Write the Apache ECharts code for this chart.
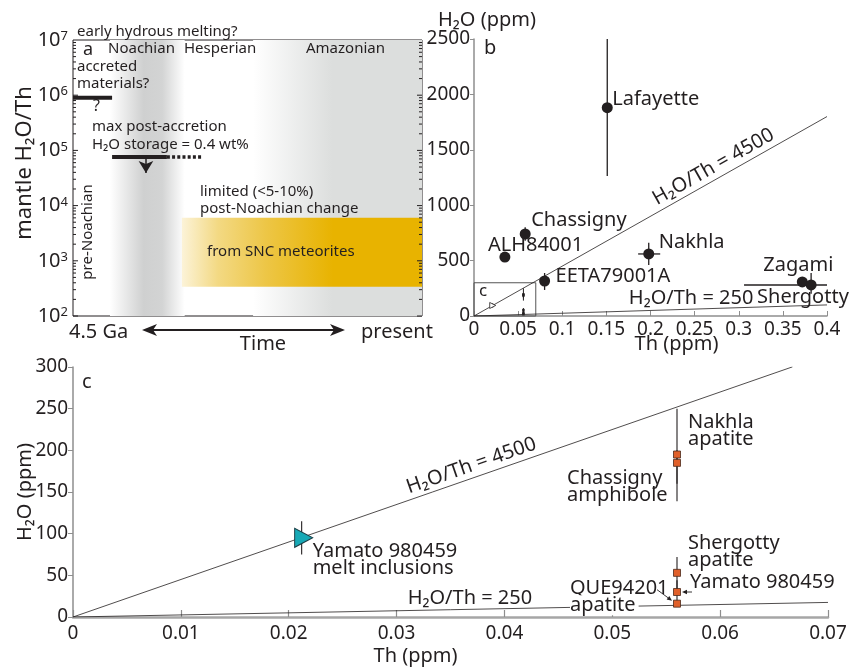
<!DOCTYPE html>
<html><head><meta charset="utf-8">
<script src="https://cdn.jsdelivr.net/npm/echarts@6/dist/echarts.min.js"></script>
<style>html,body{margin:0;padding:0;background:#fff}#c{width:857px;height:669px}</style>
</head><body><div id="c"></div>
<script>
// ================= DATA =================
// Panel a : time axis (0 = 4.5 Ga, 1 = present), mantle H2O/Th (log)
const aYRange = [1e2, 1e7];
const noachianBand = [0.106, 0.32];
const postNoachianBand = [0.516, 1];
const sncTime = [0.312, 1];
const sncRatio = [340, 6000];
const accretedBar = [[0, 9e5], [0.112, 9e5]];
const storageBar = [[0.112, 7.6e4], [0.269, 7.6e4]];
const storageDotted = [[0.269, 7.6e4], [0.37, 7.6e4]];
const storageArrow = [[0.209, 7.6e4], [0.209, 3.9e4]];

// Panel b : whole-rock SNC meteorites
const bNames = ['Lafayette', 'Chassigny', 'ALH84001', 'Nakhla', 'EETA79001A', 'Zagami', 'Shergotty'];
const bTh    = [0.151, 0.058, 0.035, 0.198, 0.080, 0.372, 0.382];
const bH2O   = [1880, 740, 532, 560, 316, 307, 280];
const bH2OLo = [1264, 680, 532, 460, 235, 307, 200];
const bH2OHi = [2500, 800, 532, 660, 388, 307, 388];
const bThLo  = [0.151, 0.058, 0.035, 0.186, 0.080, 0.372, 0.306];
const bThHi  = [0.151, 0.058, 0.035, 0.211, 0.080, 0.372, 0.400];
const bXAxis = [0, 0.4, 0.05];
const bYAxis = [0, 2500, 500];

// Panel c : melt inclusions and minerals
const meltNames = ['Yamato 980459\nmelt inclusions'];
const meltTh  = [0.0212];
const meltH2O = [95];
const meltLo  = [75];
const meltHi  = [115];
const apNames = ['Nakhla\napatite', 'Chassigny\namphibole', 'Shergotty\napatite', 'Yamato 980459', 'QUE94201\napatite'];
const apTh  = [0.056, 0.056, 0.056, 0.056, 0.056];
const apH2O = [195, 185, 53, 30, 16];
const apLo  = [160, 139, 33, 16, 16];
const apHi  = [250, 200, 72, 44, 16];
const cXAxis = [0, 0.07, 0.01];
const cYAxis = [0, 300, 50];

// Reference ratio lines H2O/Th
const ratios = [4500, 250];
const ratioTexts = ['H₂O/Th = 4500', 'H₂O/Th = 250'];
const bRatioEndTh = [0.4, 0.4];
const cRatioEndTh = [0.0667, 0.07];

// ================= STYLE =================
const FONT = '"Noto Sans", "DejaVu Sans", sans-serif';
const INK = '#231f20';
const AXG = '#8e8e8e';
const bLabelCfg = { // [dx, dy, align]
  'Lafayette': [5, -8, 'left'], 'Chassigny': [6, -14, 'left'], 'ALH84001': [-17, -12, 'left'],
  'Nakhla': [10, -12, 'left'], 'EETA79001A': [11, -5, 'left'], 'Zagami': [-39, -17, 'left'],
  'Shergotty': [-54, 12, 'left']
};
const apLabelCfg = [[11, -24, 'left'], [-110, 24, 'left'], [11, -21, 'left'], [13, -10, 'left'], [-107, -7, 'left']];
const bRatioLabelTh = [0.278, 0.246];
const cRatioLabelTh = [0.0373, 0.0368];

function grad(stops) {
  return { type: 'linear', x: 0, y: 0, x2: 1, y2: 0, colorStops: stops.map(s => ({ offset: s[0], color: s[1] })) };
}
function ratioLine(xi, yi, endTh, r, w) {
  return { type: 'line', xAxisIndex: xi, yAxisIndex: yi, symbol: 'none', silent: true, z: 2,
    lineStyle: { color: INK, width: w }, data: [[0, 0], [endTh, r * endTh]] };
}
function errorBars(xi, yi, rows, lw) {
  return { type: 'custom', xAxisIndex: xi, yAxisIndex: yi, z: 3, silent: true, data: rows,
    renderItem: (p, api) => {
      const x = api.value(0), y = api.value(1);
      const yl = api.value(2), yh = api.value(3), xl = api.value(4), xh = api.value(5);
      const ch = [];
      if (yl !== yh) { const a = api.coord([x, yl]), b = api.coord([x, yh]);
        ch.push({ type: 'line', shape: { x1: a[0], y1: a[1], x2: b[0], y2: b[1] }, style: { stroke: INK, lineWidth: lw } }); }
      if (xl !== xh) { const a = api.coord([xl, y]), b = api.coord([xh, y]);
        ch.push({ type: 'line', shape: { x1: a[0], y1: a[1], x2: b[0], y2: b[1] }, style: { stroke: INK, lineWidth: lw } }); }
      return { type: 'group', children: ch };
    } };
}
const lblBase = { show: true, position: 'inside', verticalAlign: 'middle', fontSize: 20, fontFamily: FONT, color: INK, lineHeight: 17, opacity: 1 };
const plainNum = v => String(v);

// log ticks for panel a (minor + major)
const aTicks = [];
for (let d = 2; d < 7; d++) for (let k = 1; k <= 9; k++) aTicks.push([0, k * Math.pow(10, d), k === 1 ? 5 : 3]);

const option = {
  animation: false,
  textStyle: { fontFamily: FONT },
  grid: [
    { left: 73, top: 40, width: 349, height: 276, show: true, borderColor: INK, borderWidth: 1, outerBoundsMode: 'none', containLabel: false },
    { left: 474, top: 39, width: 353, height: 277, outerBoundsMode: 'none', containLabel: false },
    { left: 73, top: 367, width: 755, height: 250, outerBoundsMode: 'none', containLabel: false }
  ],
  xAxis: [
    { gridIndex: 0, type: 'value', min: 0, max: 1, show: false },
    { gridIndex: 1, type: 'value', min: bXAxis[0], max: bXAxis[1], interval: bXAxis[2],
      axisLine: { lineStyle: { color: AXG, width: 1.5 } },
      axisTick: { inside: true, length: 5, lineStyle: { color: AXG } },
      axisLabel: { fontSize: 19, color: INK, margin: 4, fontFamily: FONT, formatter: plainNum },
      splitLine: { show: false },
      name: 'Th (ppm)', nameLocation: 'middle', nameGap: 18, nameMoveOverlap: false,
      nameTextStyle: { fontSize: 20, color: INK, fontFamily: FONT, padding: [0, 0, 0, 52] } },
    { gridIndex: 2, type: 'value', min: cXAxis[0], max: cXAxis[1], interval: cXAxis[2],
      axisLine: { lineStyle: { color: '#a6a6a6', width: 2.5 } },
      axisTick: { inside: true, length: 7, lineStyle: { color: AXG, width: 1.2 } },
      axisLabel: { fontSize: 19, color: INK, margin: 7, fontFamily: FONT, formatter: plainNum },
      splitLine: { show: false },
      name: 'Th (ppm)', nameLocation: 'middle', nameGap: 29, nameMoveOverlap: false,
      nameTextStyle: { fontSize: 20, color: INK, fontFamily: FONT, padding: [0, 70, 0, 0] } }
  ],
  yAxis: [
    { gridIndex: 0, type: 'log', logBase: 10, min: aYRange[0], max: aYRange[1],
      axisLine: { show: false }, axisTick: { show: false }, splitLine: { show: false },
      axisLabel: { margin: 5, color: INK,
        formatter: v => '{b|10}{s|' + Math.round(Math.log10(v)) + '}',
        rich: { b: { fontSize: 20, fontFamily: FONT, color: INK, verticalAlign: 'bottom' },
                s: { fontSize: 13, fontFamily: FONT, color: INK, verticalAlign: 'top' } } } },
    { gridIndex: 1, type: 'value', min: bYAxis[0], max: bYAxis[1], interval: bYAxis[2],
      axisLine: { show: true, lineStyle: { color: AXG, width: 1.5 } },
      axisTick: { show: true, length: 4, lineStyle: { color: AXG } },
      axisLabel: { fontSize: 19, color: INK, margin: 4, fontFamily: FONT, formatter: plainNum },
      splitLine: { show: false },
      name: 'H₂O (ppm)', nameLocation: 'end', nameGap: 9, nameMoveOverlap: false,
      nameTextStyle: { fontSize: 20, color: INK, fontFamily: FONT, align: 'center', verticalAlign: 'bottom', padding: [0, 0, 0, 26] } },
    { gridIndex: 2, type: 'value', min: cYAxis[0], max: cYAxis[1], interval: cYAxis[2],
      axisLine: { show: true, lineStyle: { color: AXG, width: 1.5 } },
      axisTick: { show: true, length: 5, lineStyle: { color: AXG } },
      axisLabel: { fontSize: 19, color: INK, margin: 5, fontFamily: FONT, formatter: plainNum },
      splitLine: { show: false },
      name: 'H₂O (ppm)', nameLocation: 'middle', nameGap: 38, nameMoveOverlap: false,
      nameTextStyle: { fontSize: 20, color: INK, fontFamily: FONT } }
  ],
  series: [
    // ---- panel a backgrounds
    { type: 'line', xAxisIndex: 0, yAxisIndex: 0, symbol: 'none', silent: true, z: 1, data: [[0, 1e3]], lineStyle: { width: 0 },
      markArea: { silent: true, data: [
        [{ xAxis: noachianBand[0], yAxis: aYRange[0], itemStyle: { opacity: 1, color: grad([[0, '#ffffff'], [0.45, '#cfd0d0'], [0.7, '#d3d4d4'], [1, '#ffffff']]) } },
         { xAxis: noachianBand[1], yAxis: aYRange[1] }],
        [{ xAxis: postNoachianBand[0], yAxis: aYRange[0], itemStyle: { opacity: 1, color: grad([[0, '#ffffff'], [0.47, '#dcdedd'], [1, '#dcdedd']]) } },
         { xAxis: postNoachianBand[1], yAxis: aYRange[1] }],
        [{ xAxis: sncTime[0], yAxis: sncRatio[0], itemStyle: { opacity: 1, color: grad([[0, '#fcf3d8'], [0.15, '#f3d983'], [0.35, '#edc646'], [0.63, '#e8b300'], [1, '#e8b300']]) } },
         { xAxis: sncTime[1], yAxis: sncRatio[1] }]
      ] } },
    { type: 'custom', xAxisIndex: 0, yAxisIndex: 0, silent: true, z: 3, data: aTicks, encode: { x: 0, y: 1 },
      renderItem: (p, api) => {
        const v = api.value(1), len = api.value(2);
        const a = api.coord([0, v]), b = api.coord([1, v]);
        return { type: 'group', children: [
          { type: 'line', shape: { x1: a[0], y1: a[1], x2: a[0] + len, y2: a[1] }, style: { stroke: INK, lineWidth: 1 } },
          { type: 'line', shape: { x1: b[0] - len, y1: b[1], x2: b[0], y2: b[1] }, style: { stroke: INK, lineWidth: 1 } }] };
      } },
    { type: 'line', xAxisIndex: 0, yAxisIndex: 0, symbol: 'none', silent: true, z: 4, data: accretedBar, lineStyle: { color: INK, width: 4, cap: 'butt' } },
    { type: 'line', xAxisIndex: 0, yAxisIndex: 0, symbol: 'none', silent: true, z: 4, data: storageBar, lineStyle: { color: INK, width: 4, cap: 'butt' } },
    { type: 'line', xAxisIndex: 0, yAxisIndex: 0, symbol: 'none', silent: true, z: 4, data: storageDotted, lineStyle: { color: INK, width: 3.5, type: [3, 2.2], cap: 'butt' } },
    { type: 'line', xAxisIndex: 0, yAxisIndex: 0, symbol: 'none', silent: true, z: 4, data: [], lineStyle: { width: 0 },
      markLine: { silent: true, symbol: ['none', 'arrow'], symbolSize: [11, 12], label: { show: false },
        lineStyle: { color: INK, width: 1.5, type: 'solid', opacity: 1 },
        data: [[{ coord: storageArrow[0] }, { coord: storageArrow[1] }]] } },

    // ---- panel b
    ratioLine(1, 1, bRatioEndTh[0], ratios[0], 0.8),
    ratioLine(1, 1, bRatioEndTh[1], ratios[1], 0.8),
    { type: 'line', xAxisIndex: 1, yAxisIndex: 1, symbol: 'none', silent: true, z: 2, data: [], lineStyle: { width: 0 },
      markArea: { silent: true, data: [[{ coord: [cXAxis[0], cYAxis[0]], itemStyle: { opacity: 1, color: 'rgba(0,0,0,0)', borderColor: '#555', borderWidth: 1 } },
                                        { coord: [cXAxis[1], cYAxis[1]] }]] } },
    errorBars(1, 1, bNames.map((n, i) => [bTh[i], bH2O[i], bH2OLo[i], bH2OHi[i], bThLo[i], bThHi[i]]), 1.3),
    errorBars(1, 1, meltTh.map((t, i) => [t, meltH2O[i], meltLo[i], meltHi[i], t, t]), 1),
    errorBars(1, 1, apTh.map((t, i) => [t, apH2O[i], apLo[i], apHi[i], t, t]), 1),
    { type: 'scatter', xAxisIndex: 1, yAxisIndex: 1, symbol: 'circle', symbolSize: 11, z: 4, silent: true,
      itemStyle: { color: INK, opacity: 1 },
      data: bNames.map((n, i) => ({ name: n, value: [bTh[i], bH2O[i]],
        label: Object.assign({}, lblBase, { formatter: n, offset: [bLabelCfg[n][0], bLabelCfg[n][1]], align: bLabelCfg[n][2] }) })) },
    { type: 'scatter', xAxisIndex: 1, yAxisIndex: 1, symbol: 'triangle', symbolRotate: -90, symbolSize: [6, 6], z: 4, silent: true,
      itemStyle: { color: '#ffffff', borderColor: INK, borderWidth: 0.8, opacity: 1 }, data: meltTh.map((t, i) => [t, meltH2O[i]]) },
    { type: 'scatter', xAxisIndex: 1, yAxisIndex: 1, symbol: 'rect', symbolSize: 2.5, z: 4, silent: true,
      itemStyle: { color: INK, opacity: 1 }, data: apTh.map((t, i) => [t, apH2O[i]]) },

    // ---- panel c
    ratioLine(2, 2, cRatioEndTh[0], ratios[0], 0.8),
    ratioLine(2, 2, cRatioEndTh[1], ratios[1], 0.8),
    errorBars(2, 2, meltTh.map((t, i) => [t, meltH2O[i], meltLo[i], meltHi[i], t, t]), 1.1),
    errorBars(2, 2, apTh.map((t, i) => [t, apH2O[i], apLo[i], apHi[i], t, t]), 1.1),
    { type: 'scatter', xAxisIndex: 2, yAxisIndex: 2, symbol: 'triangle', symbolRotate: -90, symbolSize: [19, 18], symbolOffset: [2, 0], z: 4, silent: true,
      itemStyle: { color: '#17a9b6', borderColor: '#1d3e46', borderWidth: 1, opacity: 1 },
      data: meltNames.map((n, i) => ({ name: n, value: [meltTh[i], meltH2O[i]],
        label: Object.assign({}, lblBase, { formatter: n, offset: [9, 21.5], align: 'left' }) })) },
    { type: 'scatter', xAxisIndex: 2, yAxisIndex: 2, symbol: 'rect', symbolSize: 7, z: 5, silent: true,
      itemStyle: { color: '#e0602a', borderColor: '#4a2a1a', borderWidth: 0.8, opacity: 1 },
      data: apNames.map((n, i) => {
        const isQue = n.indexOf('QUE') === 0;
        const parts = n.split('\n');
        return { name: n, value: [apTh[i], apH2O[i]],
          label: Object.assign({}, lblBase, {
            formatter: isQue ? '{a|' + parts[0] + '}\n{w|' + parts[1] + '}' : n,
            rich: isQue ? { a: { fontSize: 20, fontFamily: FONT, color: INK, lineHeight: 17 },
                            w: { fontSize: 20, fontFamily: FONT, color: INK, lineHeight: 17, backgroundColor: '#ffffff', padding: [0, 3, 0, 0] } } : undefined,
            offset: [apLabelCfg[i][0], apLabelCfg[i][1]], align: apLabelCfg[i][2] }) };
      }) }
  ]
};

const chart = echarts.init(document.getElementById('c'));
chart.setOption(option);

// ================= ANNOTATIONS =================
const px = (g, v) => chart.convertToPixel({ gridIndex: g }, v);
function txt(x, y, text, size, extra) {
  return Object.assign({ type: 'text', x: x, y: y, z: 20, silent: true,
    style: { text: text, fontSize: size, fontFamily: FONT, fill: INK, textAlign: 'left', textVerticalAlign: 'middle' } }, extra || {});
}
function slopeLabel(g, endTh, r, atTh, text) {
  const p0 = px(g, [0, 0]), p1 = px(g, [endTh, r * endTh]);
  const ang = Math.atan2(p0[1] - p1[1], p1[0] - p0[0]);
  const a = px(g, [atTh, r * atTh]);
  return { type: 'text', x: a[0], y: a[1], rotation: ang, z: 20, silent: true,
    style: { text: text, x: 0, y: -2, fontSize: 20, fontFamily: FONT, fill: INK, textAlign: 'center', textVerticalAlign: 'bottom' } };
}
function flatLabel(g, r, atTh, text) {
  const a = px(g, [atTh, r * atTh]);
  return { type: 'text', x: a[0], y: a[1] - 1, z: 20, silent: true,
    style: { text: text, fontSize: 20, fontFamily: FONT, fill: INK, textAlign: 'center', textVerticalAlign: 'bottom' } };
}
function arrow(x1, y1, x2, y2, s) {
  const ang = Math.atan2(y2 - y1, x2 - x1);
  const bx = x2 - s * Math.cos(ang), by = y2 - s * Math.sin(ang);
  const nx = -Math.sin(ang) * s * 0.45, ny = Math.cos(ang) * s * 0.45;
  return [
    { type: 'line', z: 20, silent: true, shape: { x1: x1, y1: y1, x2: bx, y2: by }, style: { stroke: INK, lineWidth: 0.9 } },
    { type: 'polygon', z: 20, silent: true, shape: { points: [[x2, y2], [bx + nx, by + ny], [bx - nx, by - ny]] }, style: { fill: INK } }
  ];
}

const g = [];
// panel a texts
g.push(txt(77, 32, 'early hydrous melting?', 15));
g.push(txt(83, 50, 'a', 18));
g.push(txt(108, 49, 'Noachian', 15));
g.push(txt(184, 49, 'Hesperian', 15));
g.push(txt(306, 49, 'Amazonian', 15));
g.push(txt(77, 67, 'accreted', 15));
g.push(txt(77, 84, 'materials?', 15));
g.push(txt(93, 106, '?', 16));
g.push(txt(92, 127, 'max post-accretion', 15));
g.push(txt(92, 145, 'H₂O storage = 0.4 wt%', 15));
g.push(txt(200, 192, 'limited (<5-10%)', 15));
g.push(txt(200, 209, 'post-Noachian change', 15));
g.push(txt(207, 252, 'from SNC meteorites', 15));
g.push(txt(88, 232, 'pre-Noachian', 15, { rotation: Math.PI / 2, style: { text: 'pre-Noachian', fontSize: 15, fontFamily: FONT, fill: INK, textAlign: 'center', textVerticalAlign: 'middle' } }));
g.push(txt(25, 163, 'mantle H₂O/Th', 22, { rotation: Math.PI / 2, style: { text: 'mantle H₂O/Th', fontSize: 22, fontFamily: FONT, fill: INK, textAlign: 'center', textVerticalAlign: 'middle' } }));
g.push(txt(69, 332, '4.5 Ga', 20));
g.push(txt(361, 332, 'present', 20));
g.push(txt(263, 344, 'Time', 20, { style: { text: 'Time', fontSize: 20, fontFamily: FONT, fill: INK, textAlign: 'center', textVerticalAlign: 'middle' } }));
g.push({ type: 'line', z: 20, silent: true, shape: { x1: 150, y1: 330, x2: 337, y2: 330 }, style: { stroke: INK, lineWidth: 2 } });
g.push({ type: 'polygon', z: 20, silent: true, shape: { points: [[142, 330], [157, 324], [153, 330], [157, 336]] }, style: { fill: INK } });
g.push({ type: 'polygon', z: 20, silent: true, shape: { points: [[345, 330], [330, 324], [334, 330], [330, 336]] }, style: { fill: INK } });

// panel labels
g.push(txt(484, 48, 'b', 20));
const cb = px(1, [cXAxis[0], cYAxis[1]]);
g.push(txt(cb[0] + 5, cb[1] + 8, 'c', 17));
g.push(txt(82, 382, 'c', 20));

// ratio line labels
g.push(slopeLabel(1, bRatioEndTh[0], ratios[0], bRatioLabelTh[0], ratioTexts[0]));
g.push(flatLabel(1, ratios[1], bRatioLabelTh[1], ratioTexts[1]));
g.push(slopeLabel(2, cRatioEndTh[0], ratios[0], cRatioLabelTh[0], ratioTexts[0]));
g.push(flatLabel(2, ratios[1], cRatioLabelTh[1], ratioTexts[1]));

// pointer arrows in panel c
const pY = px(2, [apTh[3], apH2O[3]]);
arrow(pY[0] + 15, pY[1], pY[0] + 5, pY[1], 5).forEach(e => g.push(e));
const pQ = px(2, [apTh[4], apH2O[4]]);
arrow(pQ[0] - 20, pQ[1] - 14, pQ[0] - 5, pQ[1] - 3, 5).forEach(e => g.push(e));

chart.setOption({ graphic: g });
</script></body></html>
